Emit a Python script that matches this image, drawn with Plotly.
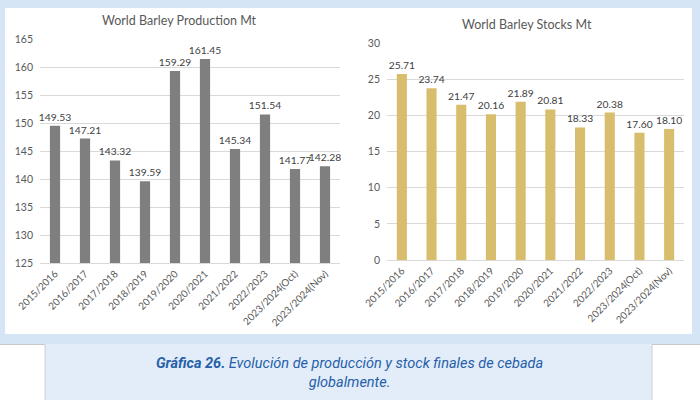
import plotly.graph_objects as go

W, H = 700, 400

categories = ["2015/2016", "2016/2017", "2017/2018", "2018/2019", "2019/2020",
              "2020/2021", "2021/2022", "2022/2023", "2023/2024(Oct)", "2023/2024(Nov)"]
production = [149.53, 147.21, 143.32, 139.59, 159.29, 161.45, 145.34, 151.54, 141.77, 142.28]
stocks = [25.71, 23.74, 21.47, 20.16, 21.89, 20.81, 18.33, 20.38, 17.60, 18.10]

title_left = "World Barley Production Mt"
title_right = "World Barley Stocks Mt"
caption = ("<b>Gráfica 26.</b> Evolución de producción y stock finales de cebada"
           "<br>globalmente.")


def px(x):
    return x / W


def py(y):
    return 1 - y / H


FONT = "Lato"
GRAY_TXT = "#595959"
LABEL_TXT = "#404040"
GRID = "#d9d9d9"
LBL_SIZE = 10.3

fig = go.Figure()

fig.add_trace(go.Bar(
    x=categories, y=production, xaxis="x", yaxis="y",
    marker=dict(color="#7f7f7f", line=dict(width=0)),
    text=[f"{v:.2f}" for v in production], textposition="outside",
    textfont=dict(family=FONT, size=LBL_SIZE, color=LABEL_TXT),
    outsidetextfont=dict(family=FONT, size=LBL_SIZE, color=LABEL_TXT),
    constraintext="none", cliponaxis=False, hoverinfo="skip",
))
fig.add_trace(go.Bar(
    x=categories, y=stocks, xaxis="x2", yaxis="y2",
    marker=dict(color="#d8bd6c", line=dict(width=0)),
    text=[f"{v:.2f}" for v in stocks], textposition="outside",
    textfont=dict(family=FONT, size=LBL_SIZE, color=LABEL_TXT),
    outsidetextfont=dict(family=FONT, size=LBL_SIZE, color=LABEL_TXT),
    constraintext="none", cliponaxis=False, hoverinfo="skip",
))

xcommon = dict(type="category", tickangle=-45, showgrid=False, showline=True,
               linecolor=GRID, linewidth=1, ticks="", automargin=False,
               tickfont=dict(family=FONT, size=10, color=GRAY_TXT))
ycommon = dict(showgrid=True, gridcolor=GRID, gridwidth=1, zeroline=False,
               showline=False, ticks="", automargin=False, ticklabelstandoff=6,
               tickfont=dict(family=FONT, size=10.5, color=GRAY_TXT))

fig.update_layout(
    width=W, height=H,
    margin=dict(l=0, r=0, t=0, b=0, autoexpand=False),
    paper_bgcolor="white", plot_bgcolor="rgba(0,0,0,0)",
    showlegend=False,
    bargap=0.66,
    xaxis=dict(domain=[px(40), px(340)], anchor="y", **xcommon),
    yaxis=dict(domain=[py(263), py(39)], range=[125, 165], dtick=5, anchor="x", **ycommon),
    xaxis2=dict(domain=[px(387), px(684)], anchor="y2", **xcommon),
    yaxis2=dict(domain=[py(260), py(43)], range=[0, 30], dtick=5, anchor="x2", **ycommon),
    shapes=[
        dict(type="rect", xref="paper", yref="paper", x0=0, x1=1, y0=py(344), y1=1,
             fillcolor="#d5e5f6", line=dict(width=0), layer="below"),
        dict(type="rect", xref="paper", yref="paper", x0=px(5), x1=px(692), y0=py(334), y1=py(8),
             fillcolor="white", line=dict(width=0), layer="below"),
        dict(type="rect", xref="paper", yref="paper", x0=px(45), x1=px(652), y0=0, y1=py(344),
             fillcolor="#e3edf9", line=dict(width=0), layer="below"),
        dict(type="line", xref="paper", yref="paper", x0=0, x1=px(45), y0=py(344.5), y1=py(344.5),
             line=dict(color="#c8c8c8", width=1), layer="below"),
        dict(type="line", xref="paper", yref="paper", x0=px(652), x1=1, y0=py(344.5), y1=py(344.5),
             line=dict(color="#c8c8c8", width=1), layer="below"),
        dict(type="line", xref="paper", yref="paper", x0=px(45), x1=px(45), y0=0, y1=py(344.5),
             line=dict(color="#d0d0d0", width=1), layer="below"),
        dict(type="line", xref="paper", yref="paper", x0=px(652), x1=px(652), y0=0, y1=py(344.5),
             line=dict(color="#d0d0d0", width=1), layer="below"),
    ],
    annotations=[
        dict(text=title_left, xref="paper", yref="paper", x=px(179), y=py(21),
             xanchor="center", yanchor="middle", showarrow=False,
             font=dict(family=FONT, size=12.5, color=GRAY_TXT)),
        dict(text=title_right, xref="paper", yref="paper", x=px(527), y=py(24),
             xanchor="center", yanchor="middle", showarrow=False,
             font=dict(family=FONT, size=12.5, color=GRAY_TXT)),
        dict(text="<i>" + caption + "</i>", xref="paper", yref="paper", x=px(349), y=py(373),
             xanchor="center", yanchor="middle", showarrow=False, align="center",
             font=dict(family="Roboto", size=14.5, color="#2660a8")),
    ],
)

fig.write_html("out.html")
